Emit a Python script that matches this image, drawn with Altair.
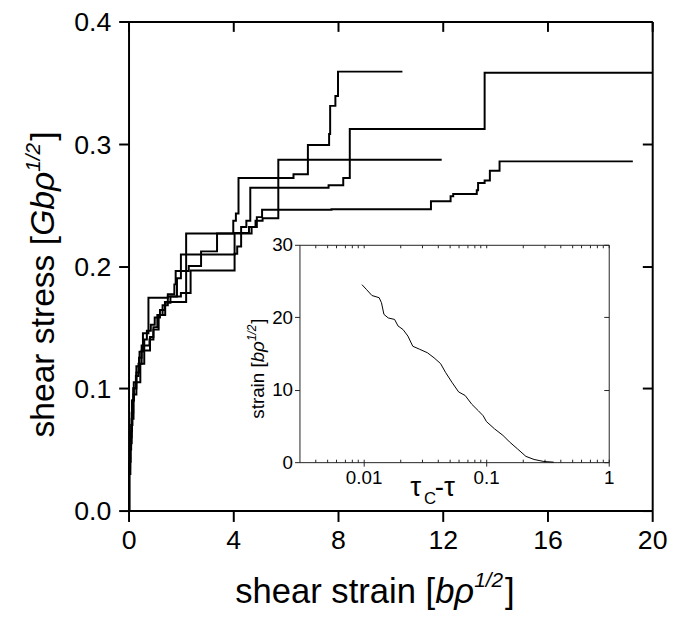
import altair as alt
import pandas as pd

# ---------------- data ----------------
# main panel: four stress-strain staircases (step-after breakpoints)
a_x = [0, 0.02, 0.05, 0.1, 0.15, 0.2, 0.3, 0.4, 0.5, 0.6, 0.7, 0.85, 1.0, 1.2, 1.39, 2.2, 4.0, 4.1, 4.2, 6.3, 6.85, 7.66, 7.7, 7.9, 8.0, 10.46]
a_y = [0, 0.03, 0.05, 0.07, 0.09, 0.1, 0.113, 0.125, 0.135, 0.14, 0.147, 0.152, 0.158, 0.164, 0.1705, 0.2267, 0.237, 0.243, 0.272, 0.275, 0.299, 0.308, 0.331, 0.339, 0.359, 0.359]

b_x = [0, 0.02, 0.06, 0.12, 0.18, 0.28, 0.38, 0.5, 0.82, 0.95, 1.1, 1.3, 1.5, 1.85, 2.0, 4.05, 4.3, 4.5, 4.65, 7.64, 8.2, 8.45, 13.6, 20]
b_y = [0, 0.035, 0.06, 0.08, 0.1, 0.11, 0.12, 0.131, 0.142, 0.15, 0.16, 0.168, 0.175, 0.19, 0.2094, 0.227, 0.232, 0.237, 0.264, 0.266, 0.272, 0.312, 0.358, 0.358]

c_x = [0, 0.03, 0.08, 0.13, 0.2, 0.3, 0.42, 0.55, 0.76, 1.5, 1.75, 1.8, 2.3, 2.77, 3.38, 4.7, 4.85, 5.12, 5.72, 11.96]
c_y = [0, 0.04, 0.065, 0.09, 0.105, 0.118, 0.13, 0.145, 0.174, 0.177, 0.185, 0.196, 0.2, 0.212, 0.2267, 0.232, 0.237, 0.239, 0.287, 0.287]

d_x = [0, 0.03, 0.07, 0.12, 0.19, 0.3, 0.45, 0.6, 0.8, 0.95, 1.15, 1.4, 1.6, 2.0, 2.37, 4.05, 4.15, 4.3, 4.6, 4.9, 5.1, 7.75, 11.55, 12.3, 12.4, 13.3, 13.35, 13.6, 13.8, 14.17, 19.26]
d_y = [0, 0.03, 0.055, 0.075, 0.095, 0.105, 0.12, 0.135, 0.14, 0.148, 0.16, 0.17, 0.175, 0.178, 0.1963, 0.21, 0.216, 0.227, 0.232, 0.24, 0.246, 0.2465, 0.253, 0.257, 0.259, 0.262, 0.268, 0.27, 0.278, 0.2856, 0.2856]

# inset: strain vs (tau_c - tau)
inset_x = [0.0097, 0.0106, 0.0117, 0.0134, 0.0140, 0.01466, 0.0159, 0.0179, 0.0191, 0.0210, 0.0230, 0.0252,
           0.0285, 0.0332, 0.0376, 0.0425, 0.0466, 0.0527, 0.0596, 0.0674, 0.0763, 0.0863, 0.0946, 0.1006,
           0.117, 0.137, 0.155, 0.181, 0.211, 0.246, 0.296, 0.356]
inset_y = [24.5, 23.8, 23.0, 22.7, 22.0, 20.4, 19.9, 19.7, 18.8, 18.3, 17.4, 16.0,
           15.6, 15.1, 14.4, 13.6, 12.4, 11.0, 9.7, 9.2, 8.0, 7.1, 6.4, 5.6,
           4.6, 3.7, 2.8, 1.8, 0.8, 0.37, 0.09, 0.0]

main_x_ticks = [0, 4, 8, 12, 16, 20]
main_y_ticks = [0.0, 0.1, 0.2, 0.3, 0.4]
inset_x_ticks = [0.01, 0.1, 1]
inset_x_minor = [0.004, 0.005, 0.006, 0.007, 0.008, 0.009,
                 0.02, 0.03, 0.04, 0.05, 0.06, 0.07, 0.08, 0.09,
                 0.2, 0.3, 0.4, 0.5, 0.6, 0.7, 0.8, 0.9]
inset_y_ticks = [0, 10, 20, 30]

# ---------------- layout ----------------
W, H = 530, 495
FONT = "Liberation Sans"
IN_L, IN_R, IN_T, IN_B = 173, 486, 226, 446

rows = []
for name, xs, ys in [("a", a_x, a_y), ("b", b_x, b_y), ("c", c_x, c_y), ("d", d_x, d_y)]:
    for i, (x, y) in enumerate(zip(xs, ys)):
        rows.append({"curve": name, "order": i, "strain": x, "stress": y})
main_df = pd.DataFrame(rows)
inset_df = pd.DataFrame({"dtau": inset_x, "strain": inset_y})

xs_main = alt.Scale(domain=[0, 20], nice=False, zero=False)
ys_main = alt.Scale(domain=[0, 0.4], nice=False)
xs_in = alt.Scale(type="log", domain=[0.003, 1], range=[IN_L, IN_R], nice=False)
ys_in = alt.Scale(domain=[0, 30], range=[IN_B, IN_T], nice=False)

main_axis_style = dict(domainColor="black", domainWidth=2, tickColor="black", tickWidth=2,
                       grid=False, title=None, labelFont=FONT, labelColor="black",
                       labelFontSize=27, labelFlush=False, labelOverlap=False)
mirror_style = dict(domainColor="black", domainWidth=2, tickColor="black", tickWidth=2,
                    grid=False, title=None, labels=False)
inset_style = dict(domainColor="#222222", domainWidth=1, tickColor="#222222", tickWidth=1,
                   grid=False, title=None, labelFont=FONT, labelColor="black",
                   labelFontSize=19, labelFlush=False, labelOverlap=False)
inset_mirror = dict(domainColor="#222222", domainWidth=1, tickColor="#222222", tickWidth=1,
                    grid=False, title=None, labels=False)

main = alt.Chart(main_df).mark_line(interpolate="step-after", color="black", strokeWidth=2).encode(
    x=alt.X("strain:Q", scale=xs_main,
            axis=alt.Axis(orient="bottom", values=main_x_ticks, tickSize=11, labelPadding=6, **main_axis_style)),
    y=alt.Y("stress:Q", scale=ys_main,
            axis=alt.Axis(orient="left", values=main_y_ticks, format=".1f", tickSize=10, labelPadding=8,
                          labelOffset=1.5, **main_axis_style)),
    detail="curve:N",
    order="order:Q",
)

main_mirror = alt.Chart(main_df).mark_line(strokeOpacity=0).encode(
    x=alt.X("strain:Q", scale=xs_main,
            axis=alt.Axis(orient="bottom", offset=-H, values=main_x_ticks, tickSize=10, **mirror_style)),
    y=alt.Y("stress:Q", scale=ys_main,
            axis=alt.Axis(orient="left", offset=-W, values=main_y_ticks, tickSize=10, **mirror_style)),
    detail="curve:N",
    order="order:Q",
)

inset = alt.Chart(inset_df).mark_line(color="black", strokeWidth=1).encode(
    x=alt.X("dtau:Q", scale=xs_in,
            axis=alt.Axis(orient="bottom", offset=IN_B - H, values=inset_x_ticks, format="~g",
                          tickSize=4, labelPadding=3, **inset_style)),
    y=alt.Y("strain:Q", scale=ys_in,
            axis=alt.Axis(orient="left", offset=-IN_L, values=inset_y_ticks, tickSize=5,
                          labelPadding=2, **inset_style)),
)

inset_top = alt.Chart(inset_df).mark_line(strokeOpacity=0).encode(
    x=alt.X("dtau:Q", scale=xs_in,
            axis=alt.Axis(orient="bottom", offset=IN_T - H, values=inset_x_ticks + inset_x_minor,
                          tickSize=3, **inset_mirror)),
    y=alt.Y("strain:Q", scale=ys_in,
            axis=alt.Axis(orient="left", offset=-IN_R, values=inset_y_ticks, tickSize=5, **inset_mirror)),
)

inset_minor = alt.Chart(inset_df).mark_line(strokeOpacity=0).encode(
    x=alt.X("dtau:Q", scale=xs_in,
            axis=alt.Axis(orient="top", offset=-IN_B, values=inset_x_ticks + inset_x_minor,
                          tickSize=3, domain=False, **inset_mirror)),
    y=alt.Y("strain:Q", scale=ys_in, axis=None),
)

one = pd.DataFrame({"k": [0]})


def txt(text, x, y, size, italic=False, angle=0):
    kw = dict(font=FONT, fontSize=size, color="black", align="left", baseline="alphabetic")
    if italic:
        kw["fontStyle"] = "italic"
    if angle:
        kw["angle"] = angle
    return alt.Chart(one).mark_text(text=text, **kw).encode(x=alt.value(x), y=alt.value(y))


# x title: shear strain [bρ^1/2]
XS, SUP = 35, 21
xt0, xb = 108, 589
texts = [
    txt("shear strain [", xt0, xb, XS),
    txt("bρ", xt0 + 5.78 * XS, xb, XS, italic=True),
    txt("1/2", xt0 + (5.78 + 1.132) * XS, xb - 17, SUP, italic=True),
    txt("]", xt0 + (5.78 + 1.132) * XS + 1.39 * SUP + 2, xb, XS),
]
# y title: shear stress [Gbρ^1/2] (rotated)
YS = 34
yx, ys0 = -75, 421
texts += [
    txt("shear stress [", yx, ys0, YS, angle=270),
    txt("Gbρ", yx, ys0 - 6.002 * YS, YS, italic=True, angle=270),
    txt("1/2", yx - 15, ys0 - (6.002 + 1.91) * YS, SUP, italic=True, angle=270),
    txt("]", yx, ys0 - (6.002 + 1.91) * YS - 1.39 * SUP - 2, YS, angle=270),
]
# inset y title: strain [bρ^1/2]
iyx, iys0, IS = 137, 402, 19
texts += [
    txt("strain [", iyx, iys0, IS, angle=270),
    txt("bρ", iyx, iys0 - 3.0 * IS, IS, italic=True, angle=270),
    txt("1/2", iyx - 8, iys0 - (3.0 + 1.132) * IS, 12, italic=True, angle=270),
    txt("]", iyx, iys0 - (3.0 + 1.132) * IS - 1.39 * 12 - 1, IS, angle=270),
]
# inset x title: τC-τ
texts += [
    txt("τ", 285, 480, 28),
    txt("C", 299, 488, 17),
    txt("-τ", 310, 480, 28),
]

chart = alt.layer(main, main_mirror, inset, inset_top, inset_minor, *texts).resolve_scale(
    x="independent", y="independent"
).resolve_axis(
    x="independent", y="independent"
).properties(
    width=W, height=H,
    autosize=alt.AutoSizeParams(type="none"),
    padding={"left": 122, "top": 10, "right": 17, "bottom": 100},
).configure_view(strokeWidth=0)

chart.save("out.html", embed_options={"renderer": "svg", "actions": False})
